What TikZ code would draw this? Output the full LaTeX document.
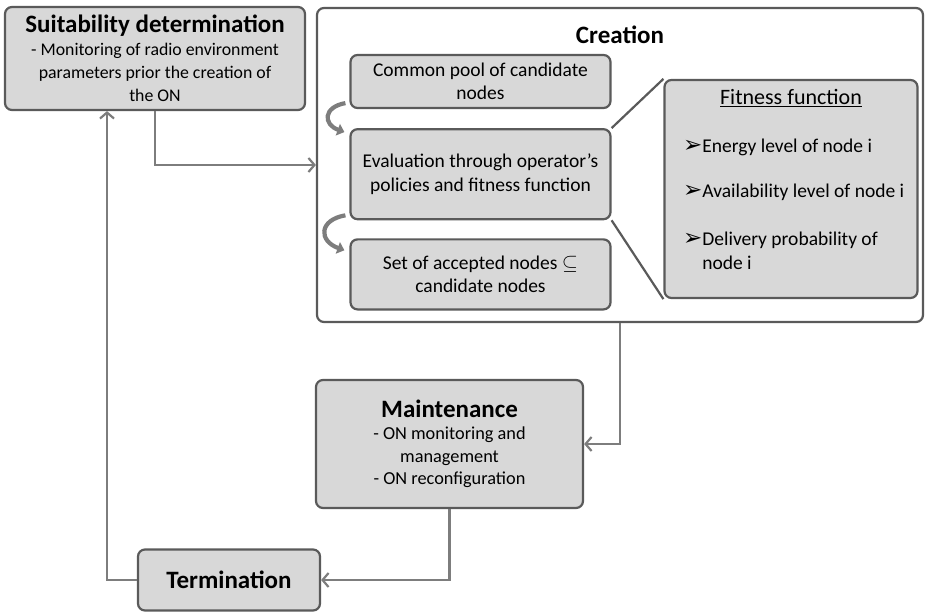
\documentclass[tikz,border=0pt]{standalone}
\usepackage{fontspec}
\setmainfont{Carlito}
\newfontfamily\bulletfont{DejaVu Sans}
\definecolor{stagefill}{RGB}{216,216,216}
\definecolor{stagedraw}{RGB}{90,90,90}
\definecolor{flowgray}{RGB}{125,125,125}
\tikzset{every picture/.style={/utils/exec={\fontsize{19.5}{23.5}\selectfont}}}
\usetikzlibrary{positioning}
\usetikzlibrary{arrows.meta}
\newcommand{\stagehead}[1]{{\fontsize{25}{29}\selectfont\bfseries #1}}
\newcommand{\fitbullet}{{\bulletfont\fontsize{23}{23}\selectfont ➢}}
\tikzset{
  stagebox/.style={fill=stagefill, draw=stagedraw, line width=2.2pt, rounded corners=7pt, align=center, inner sep=0pt},
  flowarrow/.style={draw=flowgray, line width=2.2pt, -{Straight Barb[length=6pt,width=14pt,line width=2.2pt]}},
  loopback/.style={draw=flowgray, line width=4.2pt, -{Triangle[length=7pt,width=12pt]}},
  stagetitle/.style={font=\fontsize{25}{29}\selectfont\bfseries},
}

\begin{document}
\begin{tikzpicture}[x=1pt, y=-1pt]
  \useasboundingbox (0,0) rectangle (926,612);

  % phases of the ON life cycle
  \node[stagebox, font=\fontsize{17.8}{23}\selectfont, minimum width=300pt, minimum height=103pt] (suit) at (155,58.5)
    {\stagehead{Suitability determination}\\- Monitoring of radio environment\\parameters prior the creation of\\the ON};
  \node[stagebox, fill=white, minimum width=606pt, minimum height=314pt] (creation) at (620,165) {};
  \node[stagetitle, below=12pt of creation.north] (creationtitle) {Creation};

  \node[stagebox, minimum width=260pt, minimum height=53pt] (pool) at (480.5,81.5) {Common pool of candidate\\nodes};
  \node[stagebox, minimum width=260pt, minimum height=90pt, below=19pt of pool] (eval) {Evaluation through operator’s\\policies and fitness function};
  \node[stagebox, minimum width=260pt, minimum height=70pt, below=18pt of eval] (accepted) {Set of accepted nodes $\subseteq$\\candidate nodes};

  \node[stagebox, minimum width=253pt, minimum height=218pt] (fitness) at (791,189) {};
  \node[font=\fontsize{22}{26}\selectfont] (fittitle) at (fitness.north |- 0,98) {\underline{Fitness function}};
  \node[anchor=west, align=left] (energy) at ([xshift=13pt]fitness.west |- 0,147) {\fitbullet Energy level of node i};
  \node[anchor=west, align=left] (avail) at ([xshift=13pt]fitness.west |- 0,192) {\fitbullet Availability level of node i};
  \node[anchor=west, align=left] (deliv) at ([xshift=13pt]fitness.west |- 0,251) {\fitbullet Delivery probability of\\\phantom{\fitbullet}node i};

  \node[stagebox, font=\fontsize{18.3}{22.5}\selectfont, minimum width=267pt, minimum height=128pt] (maint) at (449.5,444)
    {\stagehead{Maintenance}\\- ON monitoring and\\management\\- ON reconfiguration};
  \node[stagebox, stagetitle, minimum width=182pt, minimum height=61pt] (term) at (229,580) {Termination};

  % zoom lines to the fitness function
  \draw [stagedraw, line width=2.2pt] (eval.north east) -- (fitness.north west);
  \draw [stagedraw, line width=2.2pt] (eval.south east) -- (fitness.south west);

  % flow between phases
  \draw [flowarrow] (suit.south) |- (creation.west);
  \draw [flowarrow] (creation.south) |- (maint.east);
  \draw [flowarrow] (maint.south) |- (term.east);
  \draw [flowarrow] (term.west) -| ([xshift=-48pt]suit.south);

  % selection steps
  \draw [loopback] ([xshift=-4pt,yshift=6pt]pool.south west) to[out=190, in=160, looseness=2] ([xshift=-5pt,yshift=-4pt]eval.north west);
  \draw [loopback] ([xshift=-4pt,yshift=5pt]eval.south west) to[out=190, in=160, looseness=2] ([xshift=-5pt,yshift=-12pt]accepted.north west);
\end{tikzpicture}
\end{document}
